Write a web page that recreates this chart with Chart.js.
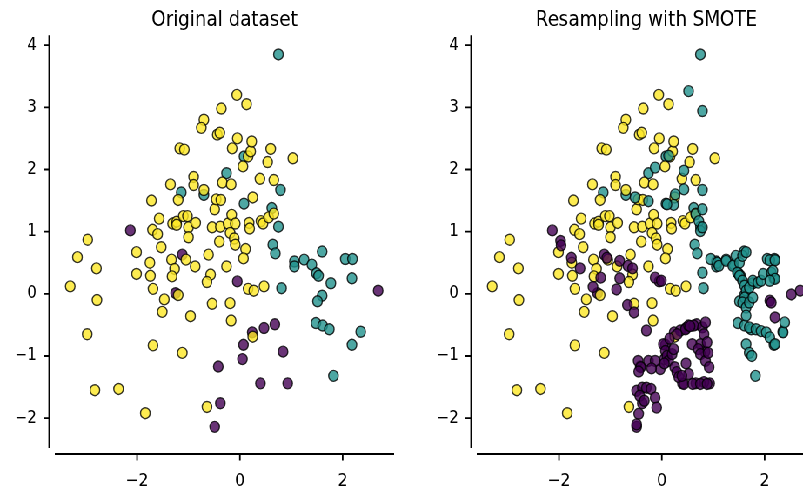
<!DOCTYPE html>
<html>
<head>
<meta charset="utf-8">
<script src="https://cdn.jsdelivr.net/npm/chart.js@4.4.0/dist/chart.umd.min.js"></script>
<style>
  html, body { margin: 0; padding: 0; background: #fff; width: 803px; height: 489px; overflow: hidden; }
  #wrap { position: absolute; left: 0; top: 0; width: 980px; height: 489px; transform: scaleX(0.87); transform-origin: 0 0; }
  .box { position: absolute; top: 0; width: 484px; height: 489px; }
</style>
</head>
<body>
<div id="wrap">
  <div class="box" style="left:0"><canvas id="origChart"></canvas></div>
  <div class="box" style="left:485px"><canvas id="smoteChart"></canvas></div>
</div>
<script>
  const titles = ["Original dataset", "Resampling with SMOTE"];
  const xTicks = [-2, 0, 2];
  const yTicks = [-2, -1, 0, 1, 2, 3, 4];

  // class 2 (majority)
  const yellowPts = [
    [-3.30,0.12],[-3.16,0.59],[-2.96,0.87],[-2.79,0.41],[-2.78,-0.10],[-2.97,-0.65],[-2.82,-1.55],
    [-2.36,-1.53],[-1.84,-1.92],[-1.69,-0.83],[-2.01,0.67],[-2.01,0.32],[-1.72,1.50],[-1.57,1.21],
    [-1.70,1.03],[-1.60,0.96],[-1.53,0.75],[-1.75,0.50],[-1.74,0.29],[-1.69,0.08],[-1.47,-0.09],
    [-1.51,-0.29],[-1.35,1.76],[-1.17,2.34],[-1.08,2.32],[-1.20,1.51],[-1.31,1.13],[-1.23,1.16],
    [-1.10,1.25],[-1.02,1.25],[-1.00,1.07],[-1.00,0.91],[-0.86,1.14],[-1.33,0.55],[-1.27,0.40],
    [-1.32,0.28],[-1.20,-0.02],[-1.05,0.55],[-0.87,0.44],[-0.96,-0.36],[-1.12,-0.95],[-0.90,1.88],
    [-0.90,1.75],[-0.70,1.67],[-0.70,2.80],[-0.75,2.67],[-0.61,0.63],[-0.57,0.31],[-0.64,0.19],
    [-0.54,-0.16],[-0.64,-1.82],[-0.49,1.36],[-0.46,1.52],[-0.37,1.51],[-0.44,2.56],[-0.39,2.59],
    [-0.36,2.98],[-0.54,1.07],[-0.38,1.08],[-0.40,0.84],[-0.34,1.79],[-0.17,1.76],[-0.26,0.44],
    [-0.19,-0.15],[-0.17,-0.43],[-0.15,2.34],[-0.23,1.13],[-0.16,1.27],[-0.19,0.98],[-0.09,1.13],
    [-0.11,0.89],[-0.09,0.79],[-0.06,3.20],[-0.05,2.50],[0.13,3.05],[0.06,2.05],[0.16,2.21],
    [0.21,2.29],[0.23,2.45],[0.11,0.72],[0.07,0.57],[0.16,0.08],[0.27,0.05],[0.47,0.12],
    [0.25,1.55],[0.18,1.14],[0.19,1.05],[0.25,-0.69],[0.39,1.85],[0.41,1.17],[0.45,1.13],
    [0.54,2.12],[0.60,2.33],[0.66,1.83],[0.56,1.23],[0.66,1.29],[1.03,2.18],[-1.23,1.11]
  ];

  // class 1
  const tealPts = [
    [0.75,3.85],[-0.26,1.94],[-1.14,1.63],[-0.70,1.59],[0.08,2.21],[0.79,1.67],[0.08,1.45],
    [0.62,1.38],[0.75,1.08],[0.64,0.79],[0.69,0.65],[0.81,0.09],[1.06,0.52],[1.06,0.44],
    [1.25,0.55],[1.40,0.47],[1.49,0.33],[1.53,0.29],[1.60,0.68],[1.77,0.17],[1.60,-0.03],
    [1.51,-0.12],[1.48,-0.47],[1.61,-0.51],[1.74,-0.57],[2.05,0.56],[2.19,0.56],[2.18,0.25],
    [2.18,-0.82],[2.35,-0.61],[1.82,-1.32]
  ];

  // class 0 (minority)
  const purplePts = [
    [-2.13,1.02],[-1.12,0.63],[-1.25,0.01],[-0.05,0.20],[0.24,-0.62],[0.47,-0.55],[0.68,-0.49],
    [0.07,-0.82],[0.05,-1.05],[0.84,-0.93],[-0.42,-1.17],[0.40,-1.44],[0.93,-1.44],[-0.38,-1.76],
    [-0.49,-2.14],[2.69,0.05]
  ];

  // synthetic samples added by SMOTE
  const tealSmote = [
    [0.52,3.26],[0.79,2.94],[0.13,2.22],[-0.13,2.03],[0.43,1.98],[0.43,1.68],[-0.26,1.49],
    [-0.52,1.55],[0.26,1.60],[0.23,1.43],[0.10,1.44],[0.66,1.28],[0.79,1.36],[0.72,1.17],
    [0.75,1.01],[0.79,1.07],[0.79,0.34],[0.95,0.56],[1.08,0.50],[1.11,0.45],[1.25,0.53],
    [1.38,0.45],[1.44,0.61],[1.51,0.50],[1.57,0.61],[1.64,0.67],[1.47,0.34],[1.51,0.29],
    [1.57,0.21],[1.61,0.13],[1.64,0.05],[1.61,-0.06],[1.57,-0.14],[1.64,-0.22],[1.70,-0.14],
    [1.77,-0.06],[1.70,0.10],[1.77,0.21],[1.87,0.18],[1.93,0.21],[1.97,0.32],[2.13,0.34],
    [2.10,0.54],[2.20,0.54],[2.16,0.37],[2.20,0.24],[2.10,0.21],[1.64,-0.35],[1.70,-0.54],
    [1.83,-0.57],[1.93,-0.60],[2.03,-0.62],[2.10,-0.70],[2.20,-0.81],[2.36,-0.62],[2.39,-0.46],
    [1.64,-0.81],[1.70,-0.95],[1.75,-1.00]
  ];

  const purpleSmote = [
    [-1.97,0.85],[-1.96,0.78],[-1.76,0.58],[-1.59,0.41],[-1.34,0.11],[-1.19,0.26],[-1.07,0.58],
    [-0.82,0.53],[-0.82,0.25],[-0.88,0.07],[-0.66,0.45],[-0.57,0.41],[-0.67,-0.18],[-0.54,-0.30],
    [-0.13,0.26],[-0.01,0.21],[-0.30,-0.59],[0.03,-0.81],[0.07,-0.92],[0.10,-1.00],[0.13,-1.08],
    [0.20,-0.97],[0.23,-0.89],[0.25,-1.18],[0.29,-1.26],[0.33,-1.34],[0.36,-0.59],[0.46,-0.57],
    [0.52,-0.51],[0.62,-0.51],[0.79,-0.54],[0.82,-0.65],[0.75,-0.81],[0.59,-0.81],[0.71,-0.89],
    [0.75,-0.97],[0.85,-1.08],[0.92,-1.18],[0.82,-1.42],[0.66,-1.44],[0.43,-1.45],[0.52,-1.29],
    [0.39,-1.32],[0.85,-0.46],[-0.46,-1.08],[-0.41,-1.18],[-0.26,-1.08],[-0.49,-1.56],[-0.38,-1.51],
    [-0.30,-1.51],[-0.21,-1.53],[-0.43,-1.64],[-0.34,-1.72],[-0.45,-1.93],[-0.13,-1.67],[-0.10,-1.83],
    [-0.49,-2.10],[-0.03,-1.21],[-0.13,-1.08],[2.10,-0.11],[2.13,-0.14],[2.20,-0.38],[2.52,-0.01],
    [0.15,-0.72],[0.30,-0.65],[0.55,-0.52],[0.60,-1.45],[0.75,-1.45],[0.88,-1.45],[0.47,-1.12],
    [0.88,-0.78],[0.90,-0.95],[-0.20,-1.20],[0.05,-1.12],[-0.45,-1.25]
  ];

  const FILL = {
    purple: "rgba(68, 1, 84, 0.8)",
    teal: "rgba(33, 145, 140, 0.8)",
    yellow: "rgba(253, 231, 37, 0.8)"
  };

  const toXY = pts => pts.map(p => ({ x: p[0], y: p[1] }));
  const minusFmt = v => (v < 0 ? "\u2212" + Math.abs(v) : String(v));

  const makeSet = (pts, color) => ({
    data: toXY(pts),
    backgroundColor: color,
    borderColor: "rgba(0,0,0,0.8)",
    borderWidth: 1.4,
    pointRadius: 5.5,
    pointHoverRadius: 5.5
  });

  // offset spines (despine style) + outward tick marks
  const spinePlugin = {
    id: "spines",
    afterDraw(chart) {
      const { ctx, chartArea, scales } = chart;
      const sx = chartArea.left - 6.5;
      const sy = chartArea.bottom + 6;
      ctx.save();
      ctx.strokeStyle = "#000";
      ctx.lineWidth = 1.8;
      ctx.beginPath();
      ctx.moveTo(sx, chartArea.top);
      ctx.lineTo(sx, chartArea.bottom);
      ctx.moveTo(chartArea.left, sy);
      ctx.lineTo(chartArea.right, sy);
      for (const v of yTicks) {
        const py = scales.y.getPixelForValue(v);
        ctx.moveTo(sx - 6.5, py);
        ctx.lineTo(sx, py);
      }
      for (const v of xTicks) {
        const px = scales.x.getPixelForValue(v);
        ctx.moveTo(px, sy);
        ctx.lineTo(px, sy + 6.5);
      }
      ctx.stroke();
      ctx.restore();
    }
  };

  function makeChart(id, title, datasets) {
    return new Chart(document.getElementById(id), {
      type: "scatter",
      data: { datasets },
      options: {
        responsive: true,
        maintainAspectRatio: false,
        animation: false,
        events: [],
        layout: { padding: { left: 0, right: 31, top: 0, bottom: 0 } },
        scales: {
          x: {
            type: "linear",
            min: -3.6,
            max: 3.0,
            afterBuildTicks: s => { s.ticks = xTicks.map(v => ({ value: v })); },
            afterFit: s => { s.height = 41; },
            border: { display: false },
            grid: { display: false, drawTicks: false },
            ticks: {
              padding: 23,
              color: "#000",
              font: { family: "DejaVu Sans", size: 18 },
              callback: minusFmt
            }
          },
          y: {
            type: "linear",
            min: -2.48,
            max: 4.16,
            afterBuildTicks: s => { s.ticks = yTicks.map(v => ({ value: v })); },
            afterFit: s => { s.width = 63; },
            border: { display: false },
            grid: { display: false, drawTicks: false },
            ticks: {
              padding: 21,
              color: "#000",
              font: { family: "DejaVu Sans", size: 17 },
              callback: minusFmt
            }
          }
        },
        plugins: {
          legend: { display: false },
          tooltip: { enabled: false },
          title: {
            display: true,
            text: title,
            fullSize: false,
            color: "#000",
            font: { family: "DejaVu Sans", size: 21, weight: "normal" },
            padding: { top: 8, bottom: 2 }
          }
        }
      },
      plugins: [spinePlugin]
    });
  }

  // first dataset is painted on top in Chart.js
  makeChart("origChart", titles[0], [
    makeSet(yellowPts, FILL.yellow),
    makeSet(tealPts, FILL.teal),
    makeSet(purplePts, FILL.purple)
  ]);

  makeChart("smoteChart", titles[1], [
    makeSet(purpleSmote, FILL.purple),
    makeSet(tealSmote, FILL.teal),
    makeSet(yellowPts, FILL.yellow),
    makeSet(tealPts, FILL.teal),
    makeSet(purplePts, FILL.purple)
  ]);
</script>
</body>
</html>
